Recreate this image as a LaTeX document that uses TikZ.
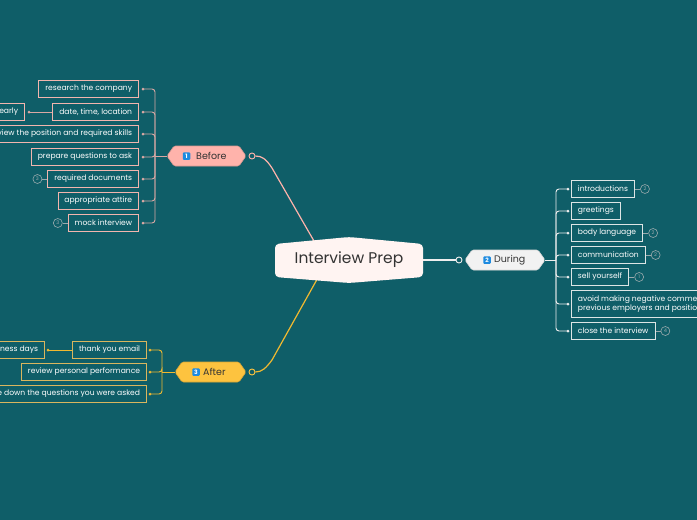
\documentclass[tikz,border=0pt]{standalone}
\usepackage{fontspec}
\setmainfont{Poppins}
\usetikzlibrary{shapes.symbols,calc}
\definecolor{bg}{HTML}{0F5E68}
\definecolor{pinkf}{HTML}{FFB3AB}
\definecolor{pinkl}{HTML}{F2B5AE}
\definecolor{pinkc}{HTML}{D9A8A4}
\definecolor{goldf}{HTML}{FDC33F}
\definecolor{goldl}{HTML}{D9B65E}
\definecolor{goldc}{HTML}{F0B930}
\definecolor{whl}{HTML}{DDE5E5}
\definecolor{whc}{HTML}{EEEEEE}
\definecolor{centf}{HTML}{FFF4F2}
\definecolor{badgeb}{HTML}{1E8BE0}
\definecolor{numc}{HTML}{9AAAAD}
\definecolor{darkt}{HTML}{333333}
\pgfdeclarelayer{bgl}\pgfdeclarelayer{edges}\pgfsetlayers{bgl,edges,main}
\tikzset{
 leaf/.style={draw, line width=0.8pt, text=white, font=\fontsize{7.6}{9}\selectfont, inner xsep=6.5pt, inner ysep=0pt, minimum height=16.5pt},
 leafP/.style={leaf, draw=pinkl, anchor=east},
 leafW/.style={leaf, draw=whl, anchor=west},
 leafG/.style={leaf, draw=goldl, anchor=east},
 num/.style={circle, draw=numc, fill=bg, line width=0.6pt, minimum size=9pt, inner sep=0pt, text=numc, font=\fontsize{5}{5}\selectfont},
 topic/.style={shape=signal, signal to=west and east, signal pointer angle=110, minimum height=20pt, inner sep=0pt, line width=0.6pt, rounded corners=1.5pt},
 badge/.style={fill=badgeb, rounded corners=1pt, minimum size=7.5pt, inner sep=0pt, text=white, font=\bfseries\fontsize{6}{7}\selectfont},
 ttext/.style={anchor=west, inner sep=0pt, text=darkt, font=\fontsize{9.5}{10}\selectfont},
 ring/.style={circle, line width=0.9pt, fill=bg, minimum size=6pt, inner sep=0pt},
 conn/.style={line width=0.9pt, rounded corners=3pt},
}
\begin{document}
\begin{tikzpicture}[x=1pt,y=-1pt]
\begin{pgfonlayer}{bgl}
\fill[bg] (0,0) rectangle (697,520);
\end{pgfonlayer}
\useasboundingbox (0,0) rectangle (697,520);
% central topic
\path[fill=centf, rounded corners=4pt] (275,244) -- (349,237) -- (423,244) -- (423,277) -- (349,283) -- (275,277) -- cycle;
\node[minimum width=148pt, minimum height=46pt, inner sep=0pt, text=darkt, font=\fontsize{15.5}{17}\selectfont] (center) at (349,260) {Interview Prep};
% main topics
\node[topic, fill=pinkf, draw=pinkf!85!black, minimum width=79pt] (before) at (206.5,156) {};
\node[badge] (b1) at (186.5,156) {1};
\node[ttext] (bt) at (196,156) {Before};
\node[ring, draw=pinkf] (bring) at (252,156) {};
\node[topic, fill=white!95!black, draw=white!85!black, minimum width=80pt] (during) at (505,260) {};
\node[badge] (b2) at (487,260) {2};
\node[ttext] (dt) at (494,260) {During};
\node[ring, draw=whc] (dring) at (459,260) {};
\node[topic, fill=goldf, draw=goldf!85!black, minimum width=71pt] (after) at (210.5,372) {};
\node[badge] (b3) at (196,372) {3};
\node[ttext] (at) at (203,372) {After};
\node[ring, draw=goldf] (aring) at (252,372) {};
% Before leaves
\node[leafP] (res) at (139,89) {research the company};
\node[leafP] (date) at (139,112) {date, time, location};
\node[leafP] (rev) at (139,134) {review the position and required skills};
\node[leafP] (prep) at (139,157) {prepare questions to ask};
\node[leafP] (docs) at (139,179) {required documents};
\node[leafP] (attire) at (139,201) {appropriate attire};
\node[leafP] (mock) at (139,223) {mock interview};
\node[leafP] (early) at (25,112) {arrive early};
\node[num] (n1) at ($(docs.west)+(-10,0)$) {3};
\node[num] (n2) at ($(mock.west)+(-10,0)$) {3};
% During leaves
\node[leafW] (intro) at (571,189) {introductions};
\node[leafW] (greet) at (571,211) {greetings};
\node[leafW] (body) at (571,233) {body language};
\node[leafW] (comm) at (571,255) {communication};
\node[leafW] (sell) at (571,277) {sell yourself};
\node[leafW, align=left, minimum height=27pt, font=\fontsize{7.6}{9}\selectfont] (avoid) at (571,304) {avoid making negative comments about\\previous employers and positions};
\node[leafW] (close) at (571,331) {close the interview};
\node[num] (n3) at ($(intro.east)+(10,0)$) {2};
\node[num] (n4) at ($(body.east)+(10,0)$) {2};
\node[num] (n5) at ($(comm.east)+(10,0)$) {2};
\node[num] (n6) at ($(sell.east)+(10,0)$) {1};
\node[num] (n7) at ($(close.east)+(10,0)$) {4};
% After leaves
\node[leafG] (thank) at (147,350) {thank you email};
\node[leafG] (perf) at (147,372) {review personal performance};
\node[leafG] (write) at (147,394) {write down the questions you were asked};
\node[leafG] (bdays) at (45,350) {within two business days};
% connectors
\begin{pgfonlayer}{edges}
\draw[pinkf, line width=1.2pt] (bring.east) .. controls (262,156) and (266,159) .. (272,168) -- (318,248);
\draw[goldc, line width=1.2pt] (aring.east) .. controls (262,372) and (266,368) .. (272,360) -- (320,274);
\draw[whc, line width=1.2pt] (center.east) -- (dring.west);
\coordinate (bsp) at (155,156);
\draw[pinkc, conn] (before.west) -- (bsp);
\foreach \c in {res,date,rev,prep,docs,attire,mock}{
  \draw[pinkc, conn] (bsp) |- ($(\c.east)+(4,0)$);
  \fill[pinkc] ($(\c.east)+(4,0)$) circle (1.5pt);
}
\draw[pinkc, line width=0.9pt] (date.west) -- ($(early.east)+(4,0)$);
\fill[pinkc] ($(early.east)+(4,0)$) circle (1.5pt);
\draw[numc, line width=0.7pt] (n1.east) -- (docs.west);
\draw[numc, line width=0.7pt] (n2.east) -- (mock.west);
\coordinate (dsp) at (556,260);
\draw[whc, conn] (during.east) -- (dsp);
\foreach \c in {intro,greet,body,comm,sell,avoid,close}{
  \draw[whc, conn] (dsp) |- ($(\c.west)+(-3,0)$);
  \fill[whc] ($(\c.west)+(-3,0)$) circle (1.5pt);
}
\foreach \a/\b in {intro/n3,body/n4,comm/n5,sell/n6,close/n7}{
  \draw[numc, line width=0.7pt] (\a.east) -- (\b.west);
}
\coordinate (asp) at (162,372);
\draw[goldc, conn] (after.west) -- (asp);
\foreach \c in {thank,perf,write}{
  \draw[goldc, conn] (asp) |- ($(\c.east)+(3,0)$);
  \fill[goldc] ($(\c.east)+(3,0)$) circle (1.5pt);
}
\draw[goldc, line width=0.9pt] (thank.west) -- ($(bdays.east)+(3,0)$);
\fill[goldc] ($(bdays.east)+(3,0)$) circle (1.5pt);
\end{pgfonlayer}
\end{tikzpicture}
\end{document}
